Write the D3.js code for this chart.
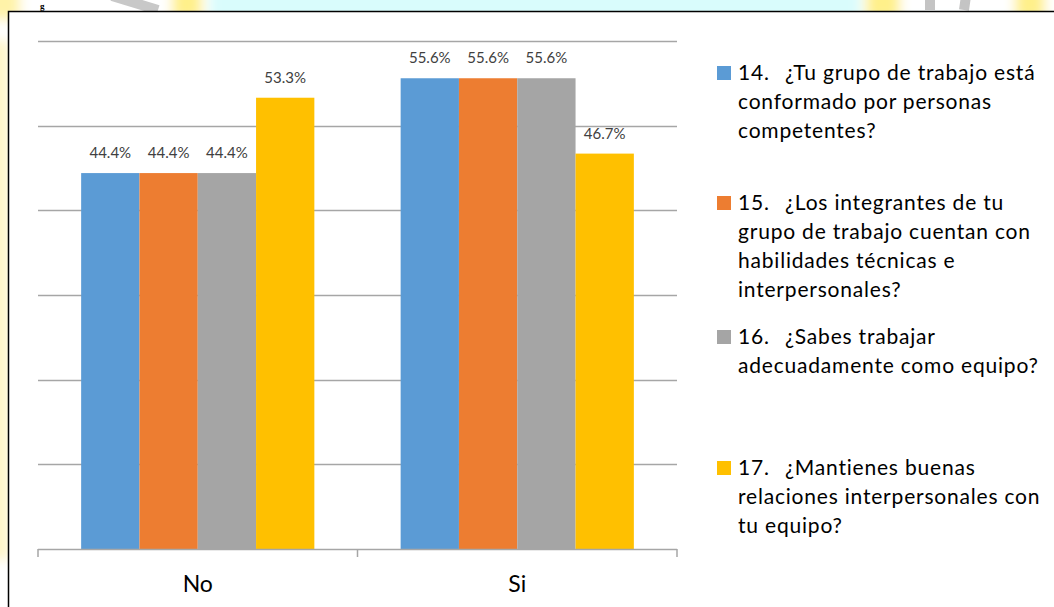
<!DOCTYPE html>
<html>
<head>
<meta charset="utf-8">
<script src="https://cdn.jsdelivr.net/npm/d3@7/dist/d3.min.js"></script>
<style>
  html, body { margin: 0; padding: 0; background: #ffffff; }
  svg { display: block; }
  text { font-variant-ligatures: none; font-feature-settings: "liga" 0; }
</style>
</head>
<body>
<svg id="chart" width="1054" height="607"></svg>
<script>
// Survey answers (percent of respondents) per question and response
const categories = ["No", "Si"];
const seriesKeys = ["q14", "q15", "q16", "q17"];
const seriesNumbers = ["14.", "15.", "16.", "17."];
const seriesLabels = [
  ["¿Tu grupo de trabajo está", "conformado por personas", "competentes?"],
  ["¿Los integrantes de tu", "grupo de trabajo cuentan con", "habilidades técnicas e", "interpersonales?"],
  ["¿Sabes trabajar", "adecuadamente como equipo?"],
  ["¿Mantienes buenas", "relaciones interpersonales con", "tu equipo?"]
];
const q14 = [44.4, 55.6];
const q15 = [44.4, 55.6];
const q16 = [44.4, 55.6];
const q17 = [53.3, 46.7];
const yTicks = [0, 10, 20, 30, 40, 50, 60];
const colors = ["#5B9BD5", "#ED7D31", "#A5A5A5", "#FFC000"];

const seriesValues = { q14, q15, q16, q17 };
const rows = categories.map((c, i) => ({
  category: c,
  values: seriesKeys.map((k, j) => ({ key: k, idx: j, value: seriesValues[k][i] }))
}));

const svg = d3.select("#chart");
const W = 1054, H = 607;
const FONT = "Lato, 'Open Sans', sans-serif";

// Page backdrop around the chart frame (tinted paper with faint watermark)
const defs = svg.append("defs");
defs.append("filter").attr("id", "soft")
  .append("feGaussianBlur").attr("stdDeviation", 6);
svg.append("rect").attr("width", W).attr("height", H).attr("fill", "#d9fcfc");
const wm = svg.append("g").attr("filter", "url(#soft)");
wm.append("rect").attr("x", -20).attr("y", -20).attr("width", 230).attr("height", 700).attr("fill", "#ffffff");
wm.append("rect").attr("x", -20).attr("y", 40).attr("width", 30).attr("height", 520).attr("fill", "#fff6c8");
wm.append("rect").attr("x", -20).attr("y", -20).attr("width", 40).attr("height", 40).attr("fill", "#fff3a8");
wm.append("rect").attr("x", 172).attr("y", -20).attr("width", 30).attr("height", 40).attr("fill", "#fff08a");
wm.append("rect").attr("x", 860).attr("y", -20).attr("width", 220).attr("height", 40).attr("fill", "#ffffff");
wm.append("rect").attr("x", 866).attr("y", -20).attr("width", 34).attr("height", 40).attr("fill", "#fff08a");
wm.append("rect").attr("x", 1015).attr("y", -20).attr("width", 30).attr("height", 40).attr("fill", "#fff08a");
svg.append("path").attr("d", "M112,-4 L158,10").attr("stroke", "#c8c8c8").attr("stroke-width", 10).attr("fill", "none");
svg.append("path").attr("d", "M930,-4 L930,10 M966,-4 L964,10").attr("stroke", "#c4c4c4").attr("stroke-width", 10).attr("fill", "none");
svg.append("text").attr("x", 40).attr("y", 8.5).attr("font-family", "Liberation Serif, serif")
  .attr("font-size", 9).attr("font-weight", "bold").attr("fill", "#000").text("g");

// Chart frame
svg.append("rect").attr("x", 8.5).attr("y", 11.5).attr("width", W).attr("height", H)
  .attr("fill", "#ffffff").attr("stroke", "#000").attr("stroke-width", 1.5);

// Scales
const plot = { left: 38, right: 677, top: 41, bottom: 549 };
const x0 = d3.scaleBand().domain(categories).range([plot.left, plot.right]).padding(0);
const x1 = d3.scaleBand().domain(seriesKeys).range([0, x0.bandwidth()])
  .paddingInner(0).paddingOuter(0.74);
const y = d3.scaleLinear().domain([0, 60]).range([plot.bottom, plot.top]);

// Horizontal gridlines
svg.append("g")
  .selectAll("line")
  .data(yTicks.filter(t => t > 0))
  .join("line")
  .attr("x1", plot.left).attr("x2", plot.right)
  .attr("y1", d => Math.round(y(d)) + 0.5).attr("y2", d => Math.round(y(d)) + 0.5)
  .attr("stroke", "#a6a6a6").attr("stroke-width", 1.5);

// Bars
const groups = svg.append("g").selectAll("g")
  .data(rows).join("g")
  .attr("transform", d => `translate(${x0(d.category)},0)`);

groups.selectAll("rect")
  .data(d => d.values)
  .join("rect")
  .attr("x", d => x1(d.key))
  .attr("y", d => y(d.value))
  .attr("width", x1.bandwidth())
  .attr("height", d => y(0) - y(d.value))
  .attr("fill", d => colors[d.idx]);

// Value labels
groups.selectAll("text")
  .data(d => d.values)
  .join("text")
  .attr("x", d => x1(d.key) + x1.bandwidth() / 2)
  .attr("y", d => y(d.value) - 15)
  .attr("text-anchor", "middle")
  .attr("font-family", FONT)
  .attr("font-size", 15)
  .attr("fill", "#404040")
  .text(d => d.value.toFixed(1) + "%");

// Category axis
const xAxis = svg.append("g").attr("transform", `translate(0,${plot.bottom})`)
  .call(d3.axisBottom(x0).tickSize(0).tickPadding(0));
xAxis.select(".domain").remove();
xAxis.selectAll(".tick text").remove();
xAxis.append("line").attr("x1", plot.left).attr("x2", plot.right).attr("y1", 0.5).attr("y2", 0.5)
  .attr("stroke", "#a6a6a6").attr("stroke-width", 1.5);
const boundaries = [plot.left].concat(categories.map(c => x0(c) + x0.bandwidth()));
xAxis.selectAll("line.sep").data(boundaries).join("line").attr("class", "sep")
  .attr("x1", d => d).attr("x2", d => d).attr("y1", 0).attr("y2", 8)
  .attr("stroke", "#a6a6a6").attr("stroke-width", 1.5);
xAxis.selectAll("text.cat").data(categories).join("text").attr("class", "cat")
  .attr("x", d => x0(d) + x0.bandwidth() / 2)
  .attr("y", 43)
  .attr("text-anchor", "middle")
  .attr("font-family", FONT)
  .attr("font-size", 23)
  .attr("fill", "#000")
  .text(d => d);

// Legend
const legendTop = [73, 203, 337, 468];
const legend = svg.append("g");
const legendText = (g, x, yPos, s) => g.append("text").attr("x", x).attr("y", yPos)
  .attr("font-family", FONT).attr("font-size", 21).attr("letter-spacing", 0.8)
  .attr("fill", "#000").text(s);
seriesKeys.forEach((k, i) => {
  const g = legend.append("g").attr("transform", `translate(0,${legendTop[i]})`);
  g.append("rect").attr("x", 717).attr("y", -7).attr("width", 14).attr("height", 14).attr("fill", colors[i]);
  seriesLabels[i].forEach((line, j) => {
    if (j === 0) {
      legendText(g, 738, 7, seriesNumbers[i]);
      legendText(g, 785, 7, line);
    } else {
      legendText(g, 738, 7 + j * 29, line);
    }
  });
});
</script>
</body>
</html>
